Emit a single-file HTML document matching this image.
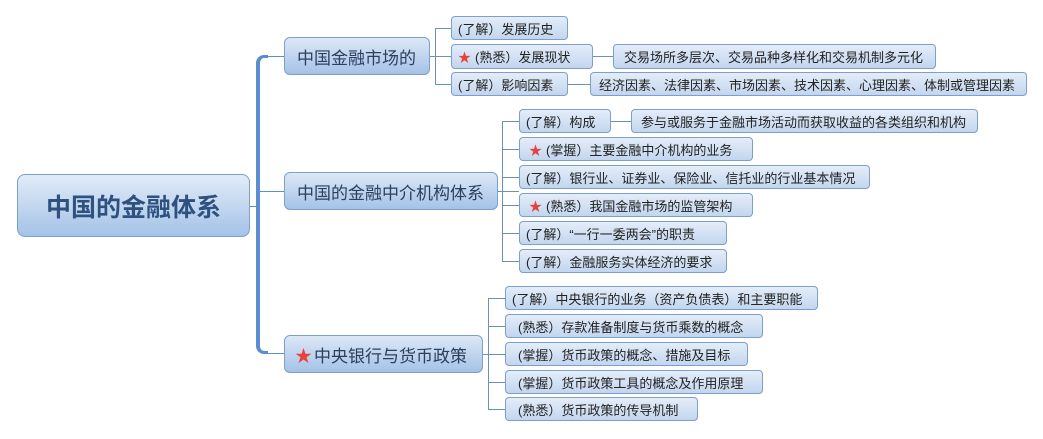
<!DOCTYPE html>
<html><head><meta charset="utf-8"><style>
body{margin:0;width:1043px;height:439px;background:#fff;position:relative;overflow:hidden;font-family:"Liberation Sans","Noto Sans CJK SC",sans-serif;}
.n{position:absolute;box-sizing:border-box;border:1px solid #7d9fcc;border-radius:4px;background:linear-gradient(#e4edf9,#c3d6ee);color:#222;font-size:13px;white-space:nowrap;display:flex;align-items:center;padding-left:6px;}
.l1{font-size:17px;color:#2b3f5e;border-radius:6px;background:linear-gradient(#dde8f7,#a5c2e7);padding-left:12px;}
.root{font-size:25px;font-weight:bold;color:#2f5180;justify-content:center;padding:0;border-radius:8px;background:linear-gradient(#e2ecf8,#a5c2e7);}
.s{color:#e8423f;margin-right:4px;}
.h,.v{position:absolute;background:#6d8fb8;}
.h{height:1px}.v{width:1px}
</style></head><body>
<div style="position:absolute;left:256px;top:55px;width:12px;height:299px;border-left:4px solid #5a8ed0;border-top:3px solid #5a8ed0;border-bottom:3px solid #5a8ed0;border-radius:8px 0 0 8px;box-sizing:border-box;border-right:none;"></div>
<div class="h" style="left:249px;top:206px;width:9px;background:#5a8ed0"></div>
<div class="h" style="left:258px;top:191px;width:26px;background:#5a8ed0"></div>
<div class="h" style="left:266px;top:56px;width:18px;background:#5a8ed0"></div>
<div class="h" style="left:266px;top:353px;width:18px;background:#5a8ed0"></div>

<div class="n root" style="left:17px;top:174px;width:233px;height:63px;">中国的金融体系</div>
<div class="n l1" style="left:284px;top:37px;width:146px;height:38px;">中国金融市场的</div>
<div class="n l1" style="left:284px;top:172px;width:214px;height:38px;">中国的金融中介机构体系</div>
<div class="n l1" style="left:284px;top:335px;width:199px;height:38px;padding-left:10px;"><span class="s" style="margin-right:2px">★</span>中央银行与货币政策</div>

<div class="h" style="left:430px;top:56px;width:21px"></div>
<div class="v" style="left:435px;top:28px;height:57px"></div>
<div class="h" style="left:435px;top:28px;width:16px"></div>
<div class="h" style="left:435px;top:84px;width:16px"></div>
<div class="n" style="left:451px;top:16px;width:117px;height:24px;">(了解）发展历史</div>
<div class="n" style="left:451px;top:44px;width:142px;height:25px;"><span class="s">★</span>(熟悉）发展现状</div>
<div class="n" style="left:451px;top:72px;width:117px;height:24px;">(了解）影响因素</div>
<div class="h" style="left:593px;top:56px;width:20px"></div>
<div class="n" style="left:613px;top:44px;width:323px;height:25px;padding-left:10px">交易场所多层次、交易品种多样化和交易机制多元化</div>
<div class="h" style="left:568px;top:84px;width:22px"></div>
<div class="n" style="left:590px;top:72px;width:437px;height:24px;padding-left:8px">经济因素、法律因素、市场因素、技术因素、心理因素、体制或管理因素</div>

<div class="h" style="left:498px;top:191px;width:21px"></div>
<div class="v" style="left:502px;top:121px;height:141px"></div>
<div class="h" style="left:502px;top:121px;width:17px"></div>
<div class="h" style="left:502px;top:149px;width:17px"></div>
<div class="h" style="left:502px;top:177px;width:17px"></div>
<div class="h" style="left:502px;top:205px;width:17px"></div>
<div class="h" style="left:502px;top:233px;width:17px"></div>
<div class="h" style="left:502px;top:261px;width:17px"></div>
<div class="n" style="left:519px;top:109px;width:92px;height:24px;">(了解）构成</div>
<div class="h" style="left:611px;top:121px;width:20px"></div>
<div class="n" style="left:631px;top:109px;width:347px;height:24px;padding-left:9px">参与或服务于金融市场活动而获取收益的各类组织和机构</div>
<div class="n" style="left:519px;top:137px;width:234px;height:24px;padding-left:9px"><span class="s">★</span>(掌握）主要金融中介机构的业务</div>
<div class="n" style="left:519px;top:165px;width:351px;height:24px;">(了解）银行业、证券业、保险业、信托业的行业基本情况</div>
<div class="n" style="left:519px;top:193px;width:234px;height:24px;padding-left:9px"><span class="s">★</span>(熟悉）我国金融市场的监管架构</div>
<div class="n" style="left:519px;top:221px;width:208px;height:24px;">(了解）“一行一委两会”的职责</div>
<div class="n" style="left:519px;top:249px;width:208px;height:24px;">(了解）金融服务实体经济的要求</div>

<div class="h" style="left:483px;top:354px;width:22px"></div>
<div class="v" style="left:488px;top:298px;height:112px"></div>
<div class="h" style="left:488px;top:298px;width:17px"></div>
<div class="h" style="left:488px;top:326px;width:17px"></div>
<div class="h" style="left:488px;top:382px;width:17px"></div>
<div class="h" style="left:488px;top:409px;width:17px"></div>
<div class="n" style="left:505px;top:286px;width:313px;height:24px;">(了解）中央银行的业务（资产负债表）和主要职能</div>
<div class="n" style="left:505px;top:314px;width:258px;height:24px;padding-left:12px">(熟悉）存款准备制度与货币乘数的概念</div>
<div class="n" style="left:505px;top:342px;width:243px;height:24px;padding-left:12px">(掌握）货币政策的概念、措施及目标</div>
<div class="n" style="left:505px;top:370px;width:258px;height:24px;padding-left:12px">(掌握）货币政策工具的概念及作用原理</div>
<div class="n" style="left:505px;top:397px;width:193px;height:24px;padding-left:12px">(熟悉）货币政策的传导机制</div>
</body></html>
